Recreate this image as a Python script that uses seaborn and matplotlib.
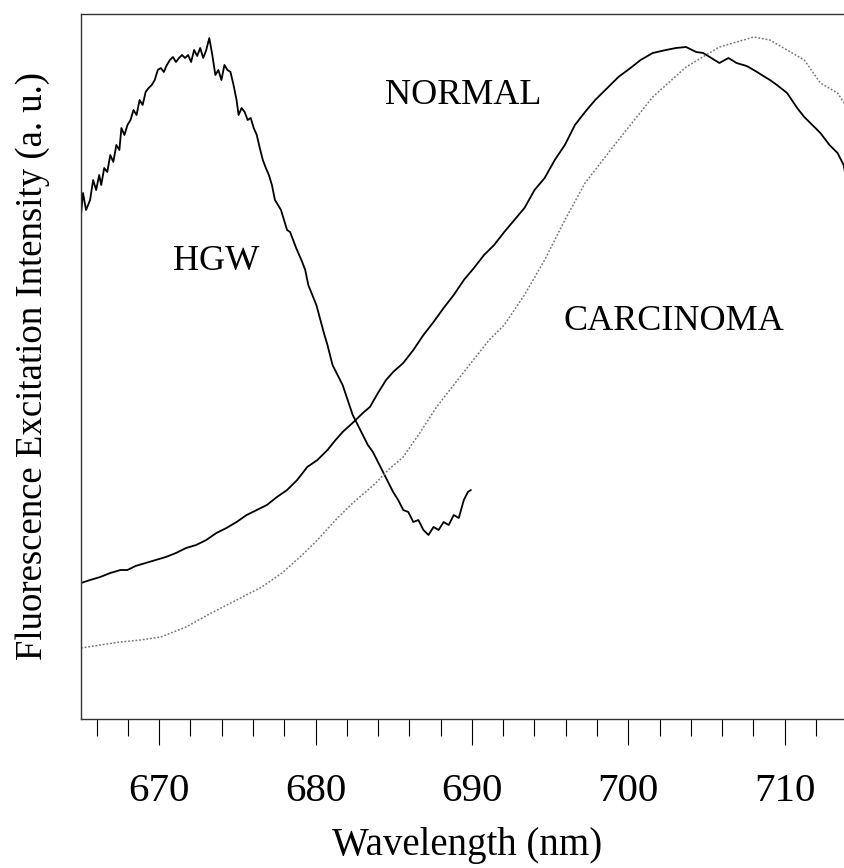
import numpy as np
import pandas as pd
import matplotlib
matplotlib.use("Agg")
import matplotlib.pyplot as plt
import seaborn as sns

# ---- data (x in px-derived nm, y in a.u. 0-100) ----
hgw_px = [81, 83, 86, 90, 93, 96, 99, 101, 104, 107, 110, 113, 116, 119, 121, 124, 127, 130, 133, 136,
          139, 142, 145, 148, 151, 154, 157, 160, 163, 166, 169, 172, 175, 178, 181, 184, 187, 190, 193,
          196, 199, 202, 205, 208, 211, 214, 217, 220, 223, 226, 229, 232, 235, 237, 240, 243, 246, 249,
          252, 255, 258, 261, 264, 267, 270, 273, 276, 279, 282, 285, 288, 291, 294, 297, 300, 303, 306,
          310, 314, 318, 322, 325, 330, 335, 340, 345, 350, 355, 360, 365, 370, 375, 380, 385, 390, 395,
          400, 405, 410, 415, 420, 425, 430, 435, 440, 445, 450, 455, 460, 464, 467]
hgw_py = [215, 193, 210, 200, 180, 190, 175, 185, 168, 172, 155, 162, 145, 150, 128, 135, 125, 120, 110, 115,
          100, 105, 92, 88, 85, 80, 70, 68, 72, 65, 60, 57, 62, 58, 55, 58, 55, 62, 50,
          56, 48, 58, 50, 38, 55, 75, 70, 80, 65, 70, 72, 85, 100, 115, 108, 112, 120, 118,
          128, 135, 148, 160, 168, 175, 185, 200, 205, 210, 220, 230, 232, 240, 248, 255, 262, 270, 285,
          295, 305, 320, 335, 345, 365, 375, 385, 400, 415, 425, 435, 445, 452, 462, 472, 482, 492, 500,
          510, 512, 522, 520, 530, 535, 527, 530, 522, 525, 515, 518, 500, 492, 490]

normal_px = [81, 90, 100, 110, 120, 127, 135, 145, 155, 165, 175, 185, 195, 205, 215, 225, 235, 245, 255,
             265, 275, 285, 295, 305, 315, 325, 333, 340, 353, 360, 367, 375, 383, 390, 400, 410, 420,
             430, 440, 450, 460, 470, 480, 490, 500, 510, 520, 530, 540, 550, 560, 570, 580, 590, 600,
             613, 625, 635, 647, 660, 670, 680, 690, 697, 705, 713, 722, 730, 740, 747, 755, 763, 770,
             780, 790, 797, 805, 813, 822, 830, 836, 840, 845]
normal_py = [583, 580, 577, 573, 570, 570, 566, 563, 560, 557, 553, 548, 545, 540, 533, 528, 522, 515, 510,
             505, 497, 490, 480, 467, 460, 450, 440, 432, 420, 413, 407, 393, 380, 372, 363, 350, 335,
             322, 308, 295, 280, 268, 255, 245, 232, 220, 208, 190, 178, 160, 145, 125, 112, 100, 90,
             77, 68, 60, 53, 50, 48, 47, 52, 53, 58, 63, 58, 63, 66, 70, 75, 80, 85,
             93, 108, 117, 125, 133, 145, 153, 165, 187, 170]

carc_px = [81, 100, 120, 140, 160, 185, 210, 235, 260, 280, 300, 315, 333, 350, 373, 385, 400, 415, 433,
           450, 467, 485, 500, 520, 540, 560, 580, 613, 647, 680, 713, 730, 747, 763, 780, 797, 813, 830, 843]
carc_py = [648, 645, 642, 640, 637, 627, 613, 600, 587, 573, 555, 540, 520, 503, 483, 470, 457, 435, 407,
           385, 363, 340, 325, 295, 260, 220, 183, 140, 97, 67, 47, 42, 37, 40, 50, 60, 83, 93, 113]

labels = ["HGW", "NORMAL", "CARCINOMA"]
tick_major = [670, 680, 690, 700, 710]


def to_nm(px):
    return [665 + (p - 81) / 15.48 for p in px]


def to_au(py):
    return [(719 - p) / 705 * 100 for p in py]


sns.set_style("white")
plt.rcParams["font.family"] = ["Liberation Serif", "DejaVu Serif"]
plt.rcParams["text.color"] = "black"
plt.rcParams["axes.labelcolor"] = "black"

fig = plt.figure(figsize=(8.45, 8.68), dpi=100)
ax = fig.add_axes([81 / 845, 1 - 719 / 868, 1 - 81 / 845 + 0.01, (719 - 14) / 868])

df_h = pd.DataFrame({"x": to_nm(hgw_px), "y": to_au(hgw_py)})
df_n = pd.DataFrame({"x": to_nm(normal_px), "y": to_au(normal_py)})
df_c = pd.DataFrame({"x": to_nm(carc_px), "y": to_au(carc_py)})

sns.lineplot(data=df_h, x="x", y="y", ax=ax, color="black", lw=1.3, sort=False)
sns.lineplot(data=df_n, x="x", y="y", ax=ax, color="black", lw=1.3, sort=False)
sns.lineplot(data=df_c, x="x", y="y", ax=ax, color="#777777", lw=1.1, sort=False,
             linestyle=(0, (1.2, 1.2)))

ax.set_xlim(665, 714.4)
ax.set_ylim(0, 100)
ax.set_yticks([])
ax.set_xticks(tick_major)
ax.set_xticklabels([str(t) for t in tick_major])
ax.set_xticks(np.arange(666, 715, 2), minor=True)
ax.tick_params(axis="x", which="major", direction="out", length=19, width=0.8,
               labelsize=29.5, pad=20, bottom=True, colors="black")
ax.tick_params(axis="x", which="minor", direction="out", length=12, width=0.8, bottom=True,
               colors="black")

for s in ["left", "top", "bottom"]:
    ax.spines[s].set_visible(True)
    ax.spines[s].set_color("#333333")
    ax.spines[s].set_linewidth(1.0)
ax.spines["right"].set_visible(False)

ax.set_xlabel("Wavelength (nm)", fontsize=28, labelpad=12, color="black")
ax.set_ylabel("Fluorescence Excitation Intensity (a. u.)", fontsize=26.5, labelpad=22, color="black")

ax.text(to_nm([459])[0], to_au([95])[0], labels[1], fontsize=26, ha="center", va="center")
ax.text(to_nm([215])[0], to_au([262])[0], labels[0], fontsize=26, ha="center", va="center")
ax.text(to_nm([668])[0], to_au([322])[0], labels[2], fontsize=26, ha="center", va="center")

fig.savefig("out.png", dpi=100)
